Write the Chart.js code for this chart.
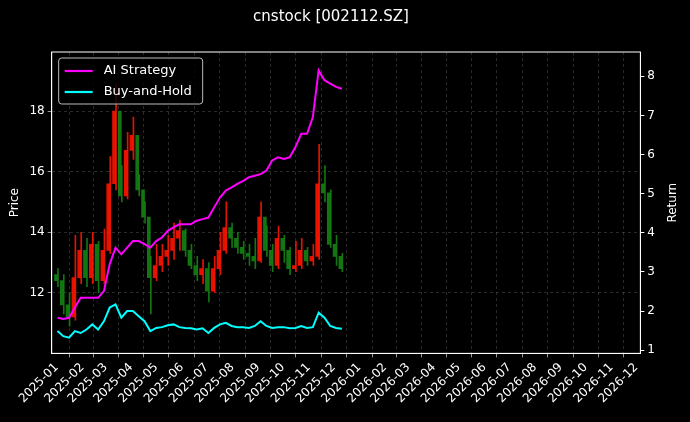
<!DOCTYPE html>
<html>
<head>
<meta charset="utf-8">
<script src="https://cdn.jsdelivr.net/npm/chart.js@4"></script>
<style>
  html, body { margin: 0; padding: 0; background: #000; }
  #wrap { width: 690px; height: 422px; }
</style>
</head>
<body>
<div id="wrap"><canvas id="chart"></canvas></div>
<script>
// week index -> day offset from 2025-01-01
const weekDays = [1,8,15,22,29,36,43,50,57,64,71,78,85,92,99,106,113,120,127,134,141,148,155,162,169,176,183,190,197,204,211,218,225,232,239,246,253,260,267,274,281,288,295,302,309,316,323,330,337,344];
const opens  = [12.6,12.4,11.6,11.2,12.5,13.4,12.5,13.6,12.4,13.4,15.6,18.0,15.2,16.7,17.2,15.4,14.5,12.5,12.9,13.2,13.4,13.8,14.05,13.4,12.9,12.6,12.8,12.05,12.8,13.4,14.15,13.8,13.5,13.3,13.2,13.05,14.5,13.4,12.9,13.8,13.4,12.8,12.9,13.4,13.05,13.2,15.6,15.3,13.6,13.2];
const closes = [12.4,11.6,11.2,12.5,13.4,12.5,13.6,12.4,13.4,15.6,18.0,15.2,16.7,17.2,15.4,14.5,12.5,12.9,13.2,13.4,13.8,14.05,13.4,12.9,12.6,12.8,12.05,12.8,13.4,14.15,13.8,13.5,13.3,13.2,13.05,14.5,13.4,12.9,13.8,13.4,12.8,12.9,13.4,13.05,13.2,15.6,15.3,13.6,13.2,12.8];
const highs  = [12.8,12.6,12.0,13.9,14.0,13.8,14.0,13.7,14.1,16.5,18.9,16.2,17.3,17.8,15.9,15.0,13.2,13.6,13.6,13.9,14.3,14.4,14.1,13.6,13.2,13.1,13.0,13.2,14.0,15.0,14.3,14.0,13.7,13.6,13.8,15.0,14.2,13.6,14.2,13.9,13.5,13.7,13.8,13.5,13.6,16.9,16.2,15.4,13.9,13.3];
const lows   = [12.2,11.3,10.9,11.1,12.3,12.2,12.3,12.0,12.3,13.3,15.4,15.0,15.1,16.4,15.2,14.3,11.3,12.4,12.7,12.9,13.1,13.4,13.2,12.8,12.4,12.3,11.7,12.0,12.6,13.3,13.5,13.3,13.1,12.9,12.8,13.0,13.2,12.7,12.8,13.0,12.6,12.7,12.8,12.9,12.9,13.1,15.0,13.5,12.9,12.7];
const aiReturn = [1.83,1.8,1.83,2.09,2.34,2.34,2.34,2.34,2.51,3.2,3.62,3.45,3.62,3.79,3.79,3.71,3.62,3.79,3.88,4.05,4.14,4.22,4.22,4.22,4.31,4.35,4.39,4.65,4.9,5.08,5.16,5.25,5.33,5.42,5.46,5.5,5.59,5.85,5.93,5.89,5.93,6.19,6.53,6.53,6.96,8.15,7.9,7.81,7.73,7.68];
const bhReturn = [1.49,1.36,1.32,1.49,1.44,1.53,1.66,1.53,1.74,2.09,2.17,1.83,2.0,2.0,1.87,1.74,1.49,1.57,1.59,1.64,1.66,1.59,1.57,1.56,1.53,1.56,1.44,1.57,1.66,1.7,1.62,1.59,1.59,1.57,1.62,1.74,1.62,1.57,1.59,1.59,1.56,1.57,1.62,1.57,1.59,1.96,1.83,1.62,1.57,1.55];
const priceTicks = [12, 14, 16, 18];
const returnTicks = [1, 2, 3, 4, 5, 6, 7, 8];

// month ticks 2025-01 .. 2026-12
const monthTicks = [];
const monthLabels = {};
for (let y = 2025; y <= 2026; y++) {
    for (let m = 0; m < 12; m++) {
        const d = Math.round((Date.UTC(y, m, 1) - Date.UTC(2025, 0, 1)) / 86400000);
        monthTicks.push(d);
        monthLabels[d] = y + '-' + String(m + 1).padStart(2, '0');
    }
}

const upColor = 'rgba(255,20,0,0.9)';
const downColor = 'rgba(20,130,20,0.9)';
const candleColor = (ctx) => closes[ctx.dataIndex] >= opens[ctx.dataIndex] ? upColor : downColor;

const legendBox = {
    id: 'legendBox',
    afterDraw(chart) {
        const c = chart.ctx, a = chart.chartArea;
        c.save();
        c.strokeStyle = '#fff';
        c.lineWidth = 1;
        c.strokeRect(a.left, a.top, a.right - a.left, a.bottom - a.top);
        const x = a.left + 7, y = a.top + 6;
        c.fillStyle = 'rgba(0,0,0,0.8)';
        c.strokeStyle = '#bbb';
        c.beginPath();
        c.roundRect(x, y, 144, 46, 3);
        c.fill(); c.stroke();
        const items = [['AI Strategy', '#ff00ff'], ['Buy-and-Hold', '#00ffff']];
        c.font = '13px "DejaVu Sans"';
        c.textBaseline = 'middle';
        items.forEach((it, i) => {
            const yy = y + 13 + i * 21;
            c.strokeStyle = it[1];
            c.lineWidth = 2.2;
            c.beginPath(); c.moveTo(x + 6, yy); c.lineTo(x + 34, yy); c.stroke();
            c.fillStyle = '#fff';
            c.fillText(it[0], x + 45, yy);
        });
        // right axis title, reading bottom to top
        c.translate(a.right + 33, (a.top + a.bottom) / 2);
        c.rotate(-Math.PI / 2);
        c.textAlign = 'center';
        c.font = '12px "DejaVu Sans"';
        c.fillText('Return', 0, 0);
        c.restore();
    }
};

new Chart(document.getElementById('chart'), {
    data: {
        datasets: [
            {
                type: 'line', label: 'AI Strategy',
                data: weekDays.map((d, i) => ({ x: d, y: aiReturn[i] })),
                borderColor: '#ff00ff', borderWidth: 2, pointRadius: 0, tension: 0,
                yAxisID: 'y2', order: 0
            },
            {
                type: 'line', label: 'Buy-and-Hold',
                data: weekDays.map((d, i) => ({ x: d, y: bhReturn[i] })),
                borderColor: '#00ffff', borderWidth: 2, pointRadius: 0, tension: 0,
                yAxisID: 'y2', order: 0
            },
            {
                type: 'bar', label: 'wick',
                data: weekDays.map((d, i) => ({ x: d, y: [lows[i], highs[i]] })),
                backgroundColor: candleColor, barThickness: 1,
                yAxisID: 'y', order: 2
            },
            {
                type: 'bar', label: 'body',
                data: weekDays.map((d, i) => ({ x: d, y: [opens[i], closes[i]] })),
                backgroundColor: candleColor, barThickness: 3,
                yAxisID: 'y', order: 1
            }
        ]
    },
    options: {
        responsive: true,
        maintainAspectRatio: false,
        animation: false,
        layout: { padding: { top: 4, right: 32, left: 4, bottom: 13 } },
        plugins: {
            legend: { display: false },
            tooltip: { enabled: false },
            title: {
                display: true, text: 'cnstock [002112.SZ]', color: '#fff',
                font: { family: 'DejaVu Sans', size: 15, weight: 'normal' },
                padding: { top: 4, bottom: 26 }
            }
        },
        scales: {
            x: {
                type: 'linear', min: -6, max: 704, offset: false,
                afterBuildTicks: (s) => { s.ticks = monthTicks.map(v => ({ value: v })); },
                ticks: {
                    color: '#fff', font: { family: 'DejaVu Sans', size: 12 },
                    maxRotation: 45, minRotation: 45, autoSkip: false,
                    callback: (v) => monthLabels[v]
                },
                grid: { color: 'rgba(140,140,140,0.5)', lineWidth: 0.6, tickColor: '#fff', tickLength: 4 },
                border: { dash: [3, 3], color: '#fff' }
            },
            y: {
                position: 'left', min: 10.0, max: 19.95,
                afterBuildTicks: (s) => { s.ticks = priceTicks.map(v => ({ value: v })); },
                ticks: { color: '#fff', font: { family: 'DejaVu Sans', size: 12 } },
                title: { display: true, text: 'Price', color: '#fff', font: { family: 'DejaVu Sans', size: 12 } },
                grid: { color: 'rgba(140,140,140,0.5)', lineWidth: 0.6, tickColor: '#fff', tickLength: 4 },
                border: { dash: [3, 3], color: '#fff' }
            },
            y2: {
                position: 'right', min: 0.92, max: 8.62,
                afterBuildTicks: (s) => { s.ticks = returnTicks.map(v => ({ value: v })); },
                ticks: { color: '#fff', font: { family: 'DejaVu Sans', size: 12 } },
                grid: { drawOnChartArea: false, tickColor: '#fff', tickLength: 4 },
                border: { color: '#fff' }
            }
        }
    },
    plugins: [legendBox]
});
</script>
</body>
</html>
